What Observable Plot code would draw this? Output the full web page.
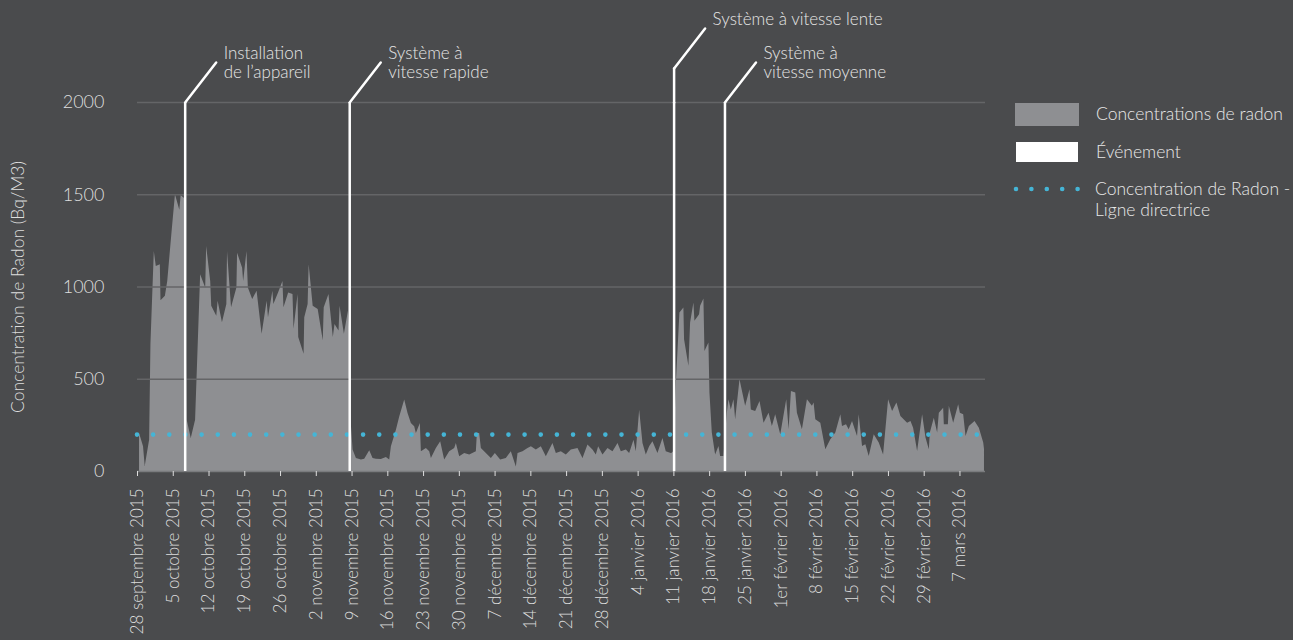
<!DOCTYPE html>
<html lang="fr">
<head>
<meta charset="utf-8">
<script src="https://cdn.jsdelivr.net/npm/d3@7"></script>
<script src="https://cdn.jsdelivr.net/npm/@observablehq/plot@0.6"></script>
<style>
  html, body { margin: 0; padding: 0; background: #4a4b4d; overflow: hidden; }
  #wrap { position: relative; width: 1293px; height: 640px; font-family: Lato, "Open Sans", sans-serif; font-weight: 300; color: #e8e8e8; }
  #chart { position: absolute; left: 0; top: 0; }
  .lg { position: absolute; font-size: 17.5px; line-height: 21px; white-space: nowrap; }
  .sw { position: absolute; }
</style>
</head>
<body>
<div id="wrap">
  <div id="chart"></div>
  <div class="sw" style="left:1015px;top:103px;width:64px;height:23px;background:#8e8f92"></div>
  <div class="lg" style="left:1096px;top:103px;">Concentrations de radon</div>
  <div class="sw" style="left:1016px;top:142px;width:62px;height:20px;background:#ffffff"></div>
  <div class="lg" style="left:1096px;top:141px;">Événement</div>
  <svg class="sw" style="left:1010px;top:183px" width="75" height="12">
    <line x1="6" y1="6" x2="68" y2="6" stroke="#45b5d6" stroke-width="4.6" stroke-linecap="round" stroke-dasharray="0 15.4"/>
  </svg>
  <div class="lg" style="left:1095px;top:178px;">Concentration de Radon -<br>Ligne directrice</div>
</div>
<script>
// ---- Data ----
const startDay = "2015-09-28";
// time of each reading, in days after startDay
const dayOffset = [
  0.4, 1.18, 1.51, 2.37, 2.63, 3.29, 3.68, 4.47, 4.60, 5.46, 5.92, 6.77, 7.43, 8.28, 8.55, 9.07, 9.27, 9.73,
  10.52, 11.37, 12.36, 13.35, 13.54, 14.33, 14.53, 15.52, 15.78, 16.63, 17.49, 17.62, 18.41, 19.46, 19.59,
  20.58, 20.78, 21.43, 21.70, 22.55, 23.41, 24.39, 25.38, 25.64, 26.50, 26.69, 27.61, 28.47, 28.67, 29.59,
  30.44, 30.64, 31.43, 31.56, 32.61, 32.74, 33.40, 33.60, 34.39, 35.37, 36.36, 36.55, 37.48, 38.33, 38.66,
  39.45, 39.65, 40.50, 41.29, 41.55, 41.75,
  42.20, 42.85, 43.83, 44.48, 45.46, 46.11, 46.76, 47.74, 48.72, 49.37, 49.70, 50.68, 51.33, 52.31, 52.96,
  53.61, 54.26, 54.59, 55.37, 55.57, 56.55, 57.20, 57.53, 58.50, 59.35, 60.13, 61.11, 62.09, 62.42, 63.07,
  64.05, 65.03, 66.33, 66.53, 66.98, 67.31, 68.29, 69.27, 70.05, 71.09, 72.20, 73.18, 74.16, 74.49, 75.46,
  76.44, 77.10, 78.07, 79.05, 80.03, 81.33, 81.99, 82.97, 83.94, 84.92, 86.23, 87.21, 88.18, 89.16, 89.81,
  90.27, 91.12, 92.10, 93.08, 94.06, 94.71, 95.69, 96.34, 97.19, 97.64, 98.30, 98.95, 99.60, 100.25, 100.90,
  101.88, 102.86, 103.51, 104.49, 104.67, 105.05, 105.26, 105.52,
  106.18, 106.96, 107.09, 107.94, 108.27, 108.92, 109.12, 110.03, 110.23, 110.88, 111.08, 111.86, 112.06,
  112.52, 113.17, 113.82, 114.15, 114.80, 115.46, 115.78, 116.24, 116.76, 117.09, 117.94, 119.05, 119.90,
  120.16, 121.01, 121.86, 122.65, 123.63, 124.28, 124.93, 125.92, 127.09, 127.55, 128.01, 128.86, 129.18,
  130.16, 131.14, 132.12, 132.45, 132.78, 133.76, 134.74, 135.72, 136.70, 137.68, 138.01, 138.79, 139.31,
  139.97, 140.95, 141.27, 141.93, 142.58, 143.24, 144.22, 145.20, 146.05, 147.03, 147.81, 148.66, 149.44,
  150.75, 151.41, 151.93, 152.71, 153.69, 154.35, 155.00, 155.20, 155.98, 156.63, 156.96, 157.81, 157.94,
  158.73, 158.92, 159.77, 160.75, 161.08, 161.73, 162.19, 162.84, 163.95, 164.80, 165.65, 165.80
];
// radon concentration (Bq/m3)
const radon = [
  206, 134, 27, 170, 690, 1192, 1111, 1120, 926, 950, 1030, 1300, 1500, 1416, 1496, 1482, 1480, 278,
  179, 278, 1066, 995, 1219, 1030, 896, 842, 923, 806, 905, 1192, 887, 995, 1183,
  1102, 1030, 1192, 995, 932, 977, 744, 923, 833, 977, 905, 968, 1030, 887, 968,
  959, 771, 959, 726, 636, 833, 905, 1120, 896, 878, 708, 887, 959, 726, 797,
  762, 896, 744, 869, 760, 300,
  116, 71, 62, 67, 113, 71, 67, 65, 76, 62, 134, 224, 296, 387, 315,
  260, 242, 206, 260, 107, 125, 107, 71, 125, 161, 62, 107, 125, 152, 80,
  98, 89, 107, 206, 206, 125, 98, 71, 98, 62, 71, 107, 25, 98, 107,
  125, 134, 116, 134, 80, 152, 98, 107, 89, 116, 125, 71, 143, 116, 89,
  134, 89, 125, 107, 152, 107, 116, 98, 170, 107, 332, 152, 89, 134, 161,
  98, 179, 107, 98, 99, 110, 300, 497,
  859, 886, 714, 570, 805, 913, 814, 850, 895, 935, 651, 696, 425,
  208, 90, 136, 81, 81, 316, 389, 334, 389, 280, 497, 353, 443,
  334, 325, 380, 262, 316, 244, 307, 199, 389, 226, 434, 425, 316,
  226, 389, 353, 371, 280, 262, 118, 172, 208, 307, 244, 253, 226,
  271, 190, 307, 136, 145, 81, 199, 154, 90, 389, 325, 371, 298,
  262, 271, 235, 108, 307, 181, 118, 208, 289, 208, 316, 343, 253,
  253, 353, 262, 362, 316, 307, 190, 244, 271, 235, 154, 120
];
const guideline = 200;
const yTicks = [0, 500, 1000, 1500, 2000];
const eventDates = ["2015-10-07T08:00Z", "2015-11-08T13:00Z", "2016-01-11T01:00Z", "2016-01-21T00:00Z"];
const eventLabels = ["Installation\nde l’appareil", "Système à\nvitesse rapide", "Système à vitesse lente", "Système à\nvitesse moyenne"];
const monthNames = ["janvier", "février", "mars", "avril", "mai", "juin", "juillet", "août", "septembre", "octobre", "novembre", "décembre"];
const yLabel = "Concentration de Radon (Bq/M3)";
const xDomain = ["2015-09-28", "2016-03-12"];

// ---- Build ----
const t0 = new Date(startDay + "T00:00Z").getTime();
const data = dayOffset.map((d, i) => ({date: new Date(t0 + d * 864e5), radon: radon[i]}));
const events = eventDates.map((d, i) => ({date: new Date(d), label: eventLabels[i]}));
const tickDates = d3.utcMonday.range(new Date(xDomain[0] + "T00:00Z"), new Date("2016-03-08T00:00Z"));
const fmt = d => `${d.getUTCDate() === 1 ? "1er" : d.getUTCDate()} ${monthNames[d.getUTCMonth()]} ${d.getUTCFullYear()}`;

const AREA = "#8e8f92", GRID = "#646567", DOT = "#45b5d6", TXT = "#e6e6e6";
const lineShape = {draw(ctx, l) { ctx.moveTo(0, 0); ctx.lineTo(0, -l); }};
const liftPx = {"Système à vitesse lente": 34};

const eventMarks = [];
for (const e of events) {
  const lift = liftPx[e.label] || 0;
  if (lift) eventMarks.push(Plot.vector([e], {x: "date", y: () => 2000, length: lift, rotate: 0, anchor: "start", shape: lineShape, stroke: "#ffffff", strokeWidth: 2.5}));
  eventMarks.push(Plot.vector([e], {x: "date", y: () => 2000, dy: -lift, length: 50.6, rotate: 37.8, anchor: "start", shape: lineShape, stroke: "#ffffff", strokeWidth: 2.5}));
  eventMarks.push(Plot.text([e], {x: "date", y: () => 2000, text: "label", dx: 38.5, dy: -57 - lift, textAnchor: "start", lineAnchor: "top", fill: TXT, fontSize: 17, lineHeight: 1.13}));
}

const chart = Plot.plot({
  width: 1293,
  height: 640,
  marginLeft: 137,
  marginRight: 308,
  marginTop: 102,
  marginBottom: 169,
  style: {fontFamily: "Lato, 'Open Sans', sans-serif", fontWeight: 300, background: "transparent", color: TXT, overflow: "visible"},
  x: {type: "utc", domain: xDomain.map(s => new Date(s + "T00:00Z"))},
  y: {domain: [0, 2000]},
  marks: [
    Plot.areaY(data, {x: "date", y: "radon", fill: AREA}),
    Plot.ruleY(yTicks.filter(v => v > 0), {stroke: GRID, strokeWidth: 1.3}),
    Plot.ruleY([0], {stroke: "#7a7b7e", strokeWidth: 1.5}),
    Plot.axisX(tickDates, {tickFormat: fmt, tickRotate: -90, tickSize: 5, tickPadding: 12, label: null, fontSize: 17, color: "#dedede"}),
    Plot.axisY(yTicks, {tickSize: 0, tickPadding: 33, tickFormat: d => String(d), label: null, fontSize: 18, color: "#dedede"}),
    Plot.text([yLabel], {frameAnchor: "left", dx: -119.5, rotate: -90, text: d => d, textAnchor: "middle", lineAnchor: "middle", fill: "#dedede", fontSize: 17.5}),
    Plot.ruleY([guideline], {stroke: DOT, strokeWidth: 4.6, strokeLinecap: "round", strokeDasharray: "0 16.15"}),
    Plot.ruleX(events, {x: "date", y1: 0, y2: 2000, stroke: "#ffffff", strokeWidth: 2.5}),
    ...eventMarks
  ]
});
document.getElementById("chart").appendChild(chart);
</script>
</body>
</html>
